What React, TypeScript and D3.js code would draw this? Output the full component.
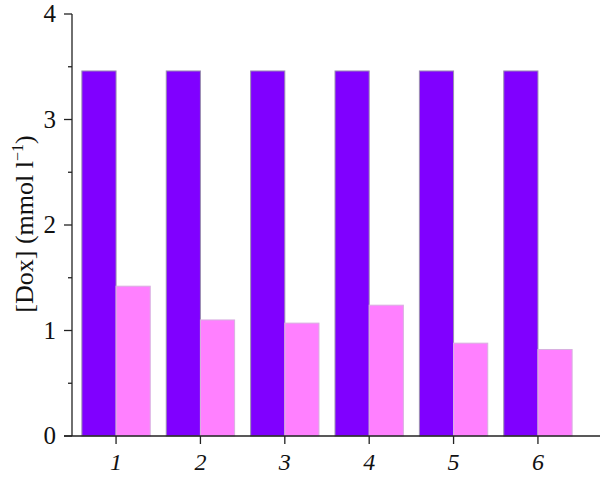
import * as d3 from "d3";

const categories = ["1", "2", "3", "4", "5", "6"];
const seriesA = [3.46, 3.46, 3.46, 3.46, 3.46, 3.46];
const seriesB = [1.42, 1.1, 1.07, 1.24, 0.88, 0.82];
const yTicks = [0, 1, 2, 3, 4];
const yMinor = [0.5, 1.5, 2.5, 3.5];

const W = 600;
const H = 477;
const left = 72;
const top = 14;
const bottom = 436;

export default function App() {
  const x = d3
    .scaleBand()
    .domain(categories)
    .range([72.6, 581.4])
    .paddingInner(0.19)
    .paddingOuter(0.11);
  const sub = d3.scaleBand().domain(["a", "b"]).range([0, x.bandwidth()]);
  const y = d3.scaleLinear().domain([0, 4]).range([bottom, top]);
  const font = "Liberation Serif, Times New Roman, serif";

  return (
    <svg
      width={W}
      height={H}
      style={{ position: "absolute", left: 0, top: 0, background: "#fff" }}
    >
      {categories.map((c, i) => (
        <g key={c} transform={`translate(${x(c)},0)`}>
          <rect
            x={sub("a")}
            y={y(seriesA[i])}
            width={sub.bandwidth()}
            height={y(0) - y(seriesA[i])}
            fill="#8000ff"
            stroke="#9a8fb0"
            strokeWidth={1}
          />
          <rect
            x={sub("b")}
            y={y(seriesB[i])}
            width={sub.bandwidth()}
            height={y(0) - y(seriesB[i])}
            fill="#ff80ff"
            stroke="#d8b0e0"
            strokeWidth={1}
          />
        </g>
      ))}
      <line x1={left} x2={left} y1={top} y2={bottom} stroke="#222" strokeWidth={1.3} />
      <line x1={64} x2={W} y1={bottom} y2={bottom} stroke="#222" strokeWidth={1.3} />
      {yTicks.map((t) => (
        <g key={t}>
          <line x1={left - 8} x2={left} y1={y(t)} y2={y(t)} stroke="#222" strokeWidth={1.3} />
          <text
            x={left - 16}
            y={y(t)}
            dy="0.33em"
            textAnchor="end"
            style={{ fontFamily: font }}
            fontSize={25}
            fill="#111"
          >
            {t}
          </text>
        </g>
      ))}
      {yMinor.map((t) => (
        <line key={t} x1={left - 4} x2={left} y1={y(t)} y2={y(t)} stroke="#222" strokeWidth={1.3} />
      ))}
      {categories.map((c) => {
        const cx = (x(c) ?? 0) + x.bandwidth() / 2;
        return (
          <g key={c}>
            <line x1={cx} x2={cx} y1={bottom} y2={bottom + 8} stroke="#222" strokeWidth={1.3} />
            <text
              x={cx}
              y={470}
              textAnchor="middle"
              style={{ fontFamily: font }}
              fontStyle="italic"
              fontSize={24}
              fill="#111"
            >
              {c}
            </text>
          </g>
        );
      })}
      <text
        transform="translate(33,224) rotate(-90)"
        textAnchor="middle"
        style={{ fontFamily: font }}
        fontSize={26}
        fill="#111"
      >
        [Dox] (mmol l<tspan dy="-10" fontSize={16}>−1</tspan>
        <tspan dy="10">)</tspan>
      </text>
    </svg>
  );
}
